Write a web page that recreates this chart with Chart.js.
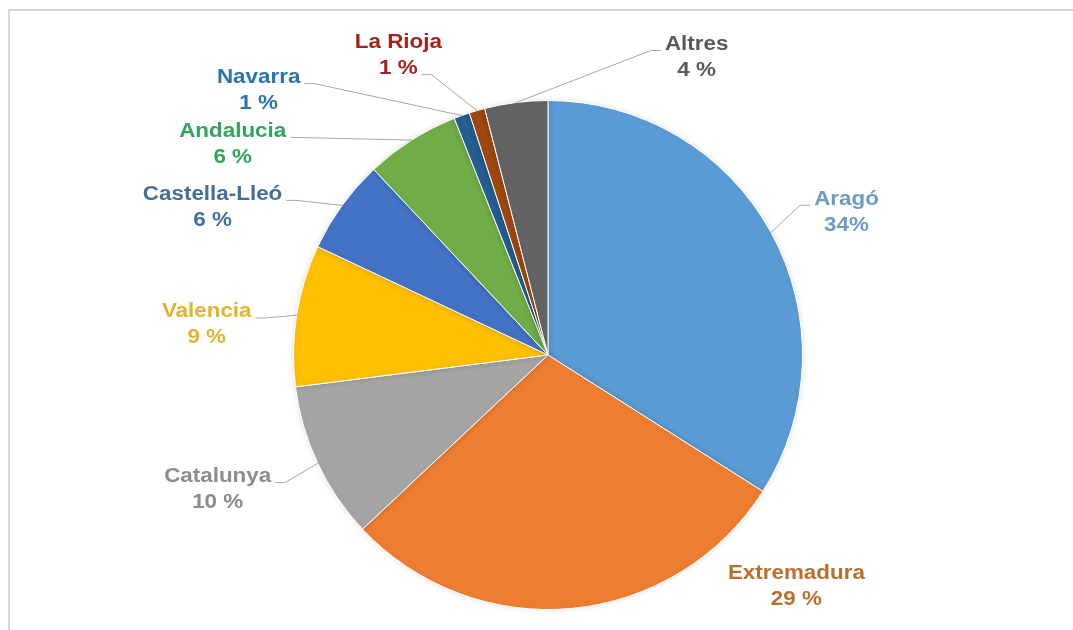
<!DOCTYPE html>
<html>
<head>
<meta charset="utf-8">
<script src="https://cdn.jsdelivr.net/npm/chart.js@4.4.0/dist/chart.umd.min.js"></script>
<style>
  body { margin: 0; background: #fff; }
  #wrap { position: relative; width: 1073px; height: 630px; }
  #frame {
    position: absolute; top: 9px; left: 8px; right: 0; bottom: 0;
    border-top: 2px solid #d6d6d6; border-left: 2px solid #d6d6d6;
  }
  #chart { position: absolute; top: 0; left: 0; }
</style>
</head>
<body>
<div id="wrap">
  <div id="frame"></div>
  <canvas id="chart" width="1073" height="630"></canvas>
</div>
<script>
const regions = ["Aragó", "Extremadura", "Catalunya", "Valencia", "Castella-Lleó", "Andalucia", "Navarra", "La Rioja", "Altres"];
const shares = [34, 29, 10, 9, 6, 6, 1, 1, 4];
const shareText = ["34%", "29 %", "10 %", "9 %", "6 %", "6 %", "1 %", "1 %", "4 %"];

const sliceColors = ["#5B9BD5", "#ED7D31", "#A5A5A5", "#FFC000", "#4472C4", "#70AD47", "#255E91", "#9E480E", "#636363"];
const textColors = ["#6D9BC6", "#BA6F2E", "#8C8C8C", "#E2B42C", "#416E9C", "#2EA55A", "#2B73B0", "#A3221B", "#5A5A5A"];

// label block centres, in radius units from the pie centre
const labelPos = [
  [1.173, -0.561], [0.976, 0.910], [-1.298, 0.529], [-1.341, -0.118], [-1.318, -0.580],
  [-1.239, -0.827], [-1.137, -1.039], [-0.588, -1.176], [0.584, -1.169]
];
// which side / line the leader line attaches to (null = no leader)
const leaderAttach = [["L", 0], null, ["R", 0], ["R", 0], ["R", 0], ["R", 0], ["R", 0], ["R", 1], ["L", 0]];

const FONT = "bold 20px 'Liberation Sans', Arial, sans-serif";
const STRETCH = 1.12;
const LINE_GAP = 26;

const pieLabels = {
  id: "pieLabels",
  afterDatasetsDraw(chart) {
    const ctx = chart.ctx;
    const arcs = chart.getDatasetMeta(0).data;
    ctx.save();
    ctx.font = FONT;
    ctx.textAlign = "center";
    ctx.textBaseline = "middle";
    arcs.forEach((arc, i) => {
      const r = arc.outerRadius;
      const cx = arc.x + labelPos[i][0] * r;
      const cy = arc.y + labelPos[i][1] * r;
      const lines = [regions[i], shareText[i]];
      const ys = [cy - LINE_GAP / 2, cy + LINE_GAP / 2];

      const att = leaderAttach[i];
      if (att) {
        const w = ctx.measureText(lines[att[1]]).width * STRETCH;
        const dir = att[0] === "R" ? 1 : -1;
        const ax = cx + dir * (w / 2 + 4);
        const ay = ys[att[1]] + 6;
        const mid = (arc.startAngle + arc.endAngle) / 2;
        const px = arc.x + Math.cos(mid) * r;
        const py = arc.y + Math.sin(mid) * r;
        ctx.strokeStyle = "#a6a6a6";
        ctx.lineWidth = 1;
        ctx.beginPath();
        ctx.moveTo(ax, ay);
        ctx.lineTo(ax + dir * 10, ay);
        ctx.lineTo(px, py);
        ctx.stroke();
      }

      ctx.fillStyle = textColors[i];
      lines.forEach((t, k) => {
        ctx.save();
        ctx.translate(cx, ys[k]);
        ctx.scale(STRETCH, 1);
        ctx.fillText(t, 0, 0);
        ctx.restore();
      });
    });
    ctx.restore();
  }
};

// soft halo round the pie
const pieShadow = {
  id: "pieShadow",
  beforeDatasetsDraw(chart) {
    chart.ctx.save();
    chart.ctx.shadowColor = "rgba(0,0,0,0.12)";
    chart.ctx.shadowBlur = 6;
  },
  afterDatasetsDraw(chart) {
    chart.ctx.restore();
  }
};

new Chart(document.getElementById("chart"), {
  type: "pie",
  data: {
    labels: regions,
    datasets: [{
      data: shares,
      backgroundColor: sliceColors,
      borderColor: "#ffffff",
      borderWidth: 1
    }]
  },
  options: {
    responsive: false,
    animation: false,
    layout: { padding: { top: 100, bottom: 20, left: 293, right: 270 } },
    plugins: {
      legend: { display: false },
      tooltip: { enabled: false }
    }
  },
  plugins: [pieShadow, pieLabels]
});
</script>
</body>
</html>
